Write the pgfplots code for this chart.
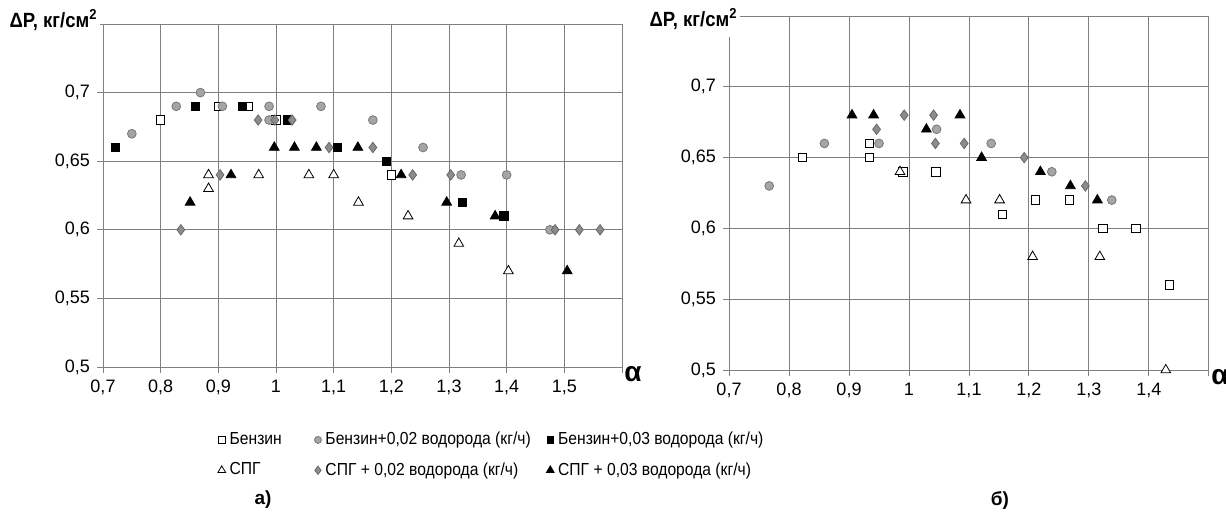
\documentclass[border=0pt]{standalone}
\usepackage{pgfplots}
\pgfplotsset{compat=1.18}
\usepackage{fontspec}
\setmainfont{Liberation Sans}
\newfontfamily\narrowfont[FakeStretch=0.9]{Liberation Sans}
\definecolor{gridc}{RGB}{128,128,128}
\definecolor{circfill}{RGB}{165,165,165}
\definecolor{circedge}{RGB}{120,120,120}
\definecolor{diafill}{RGB}{140,140,140}
\definecolor{diaedge}{RGB}{105,105,105}

\pgfplotsset{
  chart/.style={
    scale only axis, xmin=0.7, ymin=0.5, ymax=0.75,
    grid=major, grid style={draw=gridc, line width=0.5pt},
    axis line style={draw=gridc, line width=0.5pt},
    tick style={draw=gridc, line width=0.5pt},
    tick align=outside, tick pos=left, major tick length=3pt,
    ytick={0.5,0.55,0.6,0.65,0.7}, extra y ticks={0.75}, extra y tick labels={},
    /pgf/number format/use comma,
    /pgf/number format/fixed,
    /pgf/number format/precision=2,
    /pgf/number format/assume math mode=true,
    ticklabel style={font=\fontsize{9}{10}\selectfont},
    only marks,
    legend image code/.code={\draw[##1, /tikz/every mark/.append style={scale=0.8}] plot coordinates {(0pt,0pt)};},
  },
  benz/.style={mark=square*, mark size=2.1pt, mark options={fill=white, draw=black, line width=0.4pt}},
  benzA/.style={mark=*, mark size=2.2pt, mark options={fill=circfill, draw=circedge, line width=0.4pt}},
  benzB/.style={mark=square*, mark size=2.1pt, mark options={fill=black, draw=black}},
  spg/.style={mark=triangle*, mark size=2.8pt, mark options={fill=white, draw=black, line width=0.4pt}},
  spgA/.style={mark=diamond*, mark size=2.6pt, mark options={fill=diafill, draw=diaedge, line width=0.4pt}},
  spgB/.style={mark=triangle*, mark size=2.8pt, mark options={fill=black, draw=black}},
}

\begin{document}
\begin{tikzpicture}
\path[use as bounding box] (0,0) rectangle (613pt,-262pt);

% ---- a) ----
\begin{axis}[chart, name=L,
    at={(51.5pt,-183.5pt)}, anchor=south west,
    width=259.5pt, height=171.5pt,
    xmax=1.6, xtick={0.7,0.8,0.9,1,1.1,1.2,1.3,1.4,1.5},
    extra x ticks={1.6}, extra x tick labels={},
    legend columns=3,
    legend style={at={(0.209,-0.170)}, anchor=north west, draw=none, fill=none,
      font=\narrowfont\fontsize{8.7}{10}\selectfont, nodes={inner xsep=2pt, inner ysep=1.2pt}, cells={anchor=west},
      row sep=5pt,
      /tikz/column 2/.style={column sep=14.3pt},
      /tikz/column 4/.style={column sep=5.8pt}},
]
\addplot[benz] coordinates {(0.80,0.68) (0.90,0.69) (0.951,0.69) (1.0,0.68) (1.20,0.64)};
\addlegendentry{Бензин}
\addplot[benzA] coordinates {(0.75,0.67) (0.827,0.69) (0.869,0.70) (0.907,0.69) (0.988,0.69)
  (0.988,0.68) (1.078,0.69) (1.168,0.68) (1.255,0.66) (1.321,0.64) (1.400,0.64) (1.475,0.60)};
\addlegendentry{Бензин+0,02 водорода (кг/ч)}
\addplot[benzB] coordinates {(0.722,0.66) (0.86,0.69) (0.942,0.69) (1.020,0.68) (1.106,0.66)
  (1.191,0.65) (1.323,0.62) (1.395,0.61)};
\addlegendentry{Бензин+0,03 водорода (кг/ч)}
\addplot[spg] coordinates {(0.883,0.64) (0.883,0.63) (0.970,0.64) (1.057,0.64) (1.100,0.64)
  (1.143,0.62) (1.229,0.61) (1.317,0.59) (1.403,0.57)};
\addlegendentry{СПГ}
\addplot[spgA] coordinates {(0.835,0.60) (0.903,0.64) (0.969,0.68) (0.998,0.68) (1.028,0.68)
  (1.092,0.66) (1.168,0.66) (1.237,0.64) (1.303,0.64) (1.484,0.60) (1.526,0.60) (1.562,0.60)};
\addlegendentry{СПГ + 0,02 водорода (кг/ч)}
\addplot[spgB] coordinates {(0.851,0.62) (0.922,0.64) (0.997,0.66) (1.032,0.66) (1.070,0.66)
  (1.142,0.66) (1.217,0.64) (1.296,0.62) (1.380,0.61) (1.505,0.57)};
\addlegendentry{СПГ + 0,03 водорода (кг/ч)}
\end{axis}

% ---- b) ----
\begin{axis}[chart, name=R,
    at={(364.5pt,-185pt)}, anchor=south west,
    width=240pt, height=177pt,
    xmax=1.5, xtick={0.7,0.8,0.9,1,1.1,1.2,1.3,1.4},
    extra x ticks={1.5}, extra x tick labels={},
]
\addplot[benz] coordinates {(0.822,0.65) (0.934,0.66) (0.934,0.65) (0.990,0.64) (1.045,0.64)
  (1.156,0.61) (1.211,0.62) (1.267,0.62) (1.323,0.60) (1.378,0.60) (1.434,0.56)};
\addplot[benzA] coordinates {(0.767,0.63) (0.859,0.66) (0.950,0.66) (1.046,0.67) (1.137,0.66)
  (1.238,0.64) (1.338,0.62)};
\addplot[spg] coordinates {(0.985,0.64) (1.095,0.62) (1.151,0.62) (1.206,0.58) (1.318,0.58) (1.428,0.50)};
\addplot[spgA] coordinates {(0.946,0.67) (0.992,0.68) (1.041,0.68) (1.044,0.66) (1.092,0.66)
  (1.192,0.65) (1.294,0.63)};
\addplot[spgB] coordinates {(0.905,0.68) (0.941,0.68) (1.029,0.67) (1.085,0.68) (1.121,0.65)
  (1.219,0.64) (1.269,0.63) (1.314,0.62)};
\end{axis}

% axis titles: white boxes hide the frame behind them, as in the original
\node[anchor=base east, fill=white, inner xsep=1pt, inner ysep=4pt,
      font=\narrowfont\bfseries\fontsize{10.3}{11}\selectfont]
  at ([xshift=-1.5pt,yshift=-1.5pt]L.north west) {ΔP, кг/см\textsuperscript{2}};
\node[anchor=base east, fill=white, inner xsep=1pt, inner ysep=4pt,
      font=\narrowfont\bfseries\fontsize{10.3}{11}\selectfont]
  at ([xshift=5.5pt,yshift=-5pt]R.north west) {ΔP, кг/см\textsuperscript{2}};
\foreach \ax in {L,R}{
  \node[anchor=base west, inner sep=0pt, font=\bfseries\fontsize{14}{16}\selectfont]
    at ([xshift=1pt,yshift=-7pt]\ax.south east) {α};
}
\node[font=\bfseries\fontsize{9.5}{10}\selectfont] at (131.5pt,-250pt) {а)};
\node[font=\bfseries\fontsize{9.5}{10}\selectfont] at (500pt,-250pt) {б)};
\end{tikzpicture}
\end{document}
